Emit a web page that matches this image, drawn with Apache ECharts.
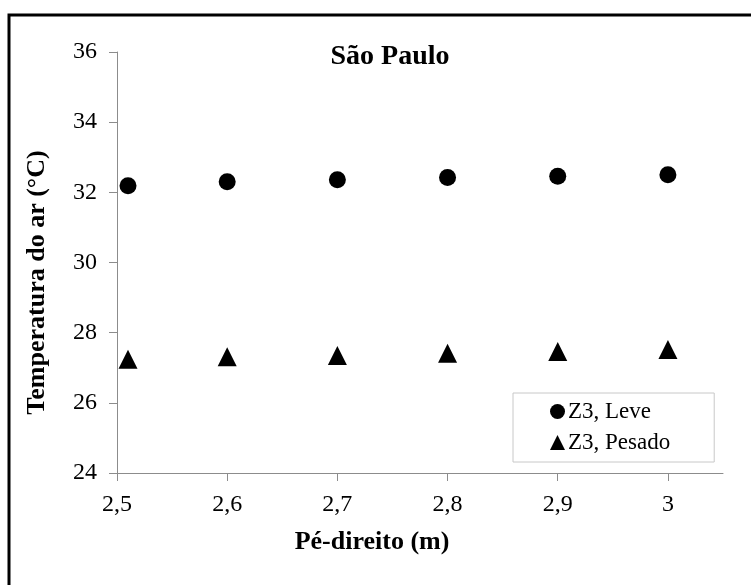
<!DOCTYPE html>
<html>
<head>
<meta charset="utf-8">
<script src="https://cdn.jsdelivr.net/npm/echarts@6/dist/echarts.min.js"></script>
<style>html,body{margin:0;padding:0;background:#fff;}#c{width:751px;height:585px;}</style>
</head>
<body>
<div id="c"></div>
<script>
var xValues = [2.51, 2.6, 2.7, 2.8, 2.9, 3.0];
var leve = [32.19, 32.3, 32.36, 32.42, 32.46, 32.5];
var pesado = [27.24, 27.31, 27.35, 27.41, 27.46, 27.52];
var seriesNames = ['Z3, Leve', 'Z3, Pesado'];
var titleText = 'São Paulo';
var xName = 'Pé-direito (m)';
var yName = 'Temperatura do ar (°C)';

function pairs(xs, ys) { return xs.map(function (x, i) { return [x, ys[i]]; }); }

var FONT = '"Liberation Serif", "Times New Roman", serif';
var chart = echarts.init(document.getElementById('c'));
chart.setOption({
  animation: false,
  backgroundColor: '#fff',
  textStyle: { fontFamily: FONT },
  title: {
    text: titleText, left: 385, top: 38, textAlign: 'center',
    textStyle: { fontFamily: FONT, fontSize: 28, fontWeight: 'bold', color: '#000' }
  },
  graphic: [{
    type: 'rect', shape: { x: 9, y: 15, width: 900, height: 800 },
    style: { fill: 'none', stroke: '#000', lineWidth: 3 }, silent: true
  }],
  grid: { left: 117, right: 28, top: 52, bottom: 112 },
  legend: {
    orient: 'vertical', left: 513, top: 393,
    padding: [7, 44, 8, 37], itemGap: 8,
    borderColor: '#c8c8c8', borderWidth: 1, backgroundColor: '#fff',
    itemWidth: 15, itemHeight: 15,
    itemStyle: { opacity: 1 },
    textStyle: { fontFamily: FONT, fontSize: 23, color: '#000', padding: [0, 0, 0, -2] },
    data: [{ name: seriesNames[0], icon: 'circle' }, { name: seriesNames[1], icon: 'triangle' }]
  },
  xAxis: {
    type: 'value', min: 2.5, max: 3.05, interval: 0.1,
    name: xName, nameLocation: 'middle', nameGap: 56,
    nameTextStyle: { fontFamily: FONT, fontSize: 26, fontWeight: 'bold', color: '#000', padding: [0, 96, 0, 0] },
    axisLine: { show: true, onZero: false, lineStyle: { color: '#8c8c8c', width: 1 } },
    axisTick: { show: true, length: 8, lineStyle: { color: '#8c8c8c' } },
    splitLine: { show: false },
    axisLabel: {
      margin: 20, fontFamily: FONT, fontSize: 24, color: '#000', showMaxLabel: false,
      formatter: function (v) { return (Math.round(v * 10) / 10).toString().replace('.', ','); }
    }
  },
  yAxis: {
    type: 'value', min: 24, max: 36, interval: 2,
    name: yName, nameLocation: 'middle', nameGap: 67,
    nameTextStyle: { fontFamily: FONT, fontSize: 26, fontWeight: 'bold', color: '#000', padding: [0, 0, 0, -40] },
    axisLine: { show: true, lineStyle: { color: '#8c8c8c', width: 1 } },
    axisTick: { show: true, length: 8, lineStyle: { color: '#8c8c8c' } },
    splitLine: { show: false },
    axisLabel: { margin: 20, fontFamily: FONT, fontSize: 24, color: '#000' }
  },
  series: [
    { name: seriesNames[0], type: 'scatter', symbol: 'circle', symbolSize: 17,
      itemStyle: { color: '#000', opacity: 1 }, data: pairs(xValues, leve) },
    { name: seriesNames[1], type: 'scatter', symbol: 'triangle', symbolSize: [19, 19],
      itemStyle: { color: '#000', opacity: 1 }, data: pairs(xValues, pesado) }
  ]
});
</script>
</body>
</html>
